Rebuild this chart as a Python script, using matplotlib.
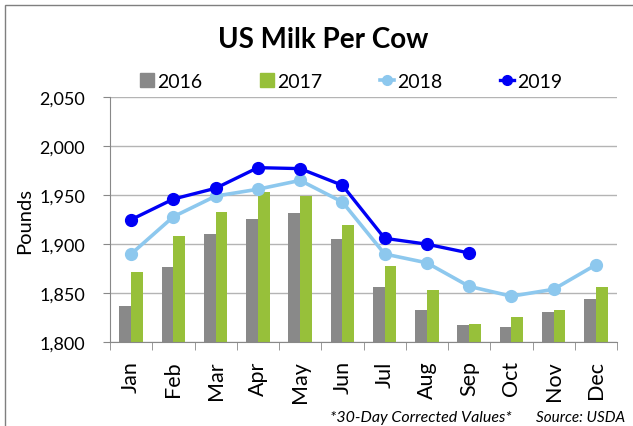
import matplotlib
matplotlib.use("Agg")
import matplotlib.pyplot as plt
import numpy as np
from matplotlib.patches import Rectangle
from matplotlib.lines import Line2D
from matplotlib.ticker import FuncFormatter, FixedLocator

plt.rcParams['font.family'] = ['Lato', 'DejaVu Sans']

months = ["Jan", "Feb", "Mar", "Apr", "May", "Jun", "Jul", "Aug", "Sep", "Oct", "Nov", "Dec"]
y2016 = [1837, 1877, 1910, 1926, 1932, 1905, 1856, 1833, 1818, 1816, 1831, 1844]
y2017 = [1872, 1908, 1933, 1953, 1949, 1920, 1878, 1853, 1819, 1826, 1833, 1856]
y2018 = [1890, 1928, 1949, 1956, 1965, 1943, 1890, 1881, 1857, 1847, 1854, 1879]
y2019 = [1925, 1946, 1957, 1978, 1977, 1960, 1906, 1900, 1891]
yticks = [1800, 1850, 1900, 1950, 2000, 2050]

c16 = "#898989"
c17 = "#97C03A"
c18 = "#8DC8EE"
c19 = "#0000F5"

fig = plt.figure(figsize=(6.33, 4.27), dpi=100)
ax = fig.add_axes([110/633, 1-343.3/427, 507/633, (343.3-98)/427])

x = np.arange(len(months))
w = 0.28
ax.bar(x - w/2, y2016, width=w, color=c16, zorder=2)
ax.bar(x + w/2, y2017, width=w, color=c17, zorder=2)
ax.plot(x, y2018, color=c18, lw=2.6, marker='o', ms=8.5, zorder=3)
ax.plot(np.arange(len(y2019)), y2019, color=c19, lw=2.4, marker='o', ms=8.5, zorder=4)

ax.set_xlim(-0.5, 11.5)
ax.set_ylim(1800, 2050)
ax.set_yticks(yticks)
ax.yaxis.set_major_formatter(FuncFormatter(lambda v, p: f"{int(v):,}"))
ax.grid(axis='y', color='#b4b4b4', lw=1.0, zorder=0)
ax.set_axisbelow(True)

ax.set_xticks(x)
ax.set_xticklabels(months, rotation=90, fontsize=15.5)
ax.tick_params(axis='x', which='major', length=0, pad=13)
ax.xaxis.set_minor_locator(FixedLocator(np.arange(-0.5, 12, 1)))
ax.tick_params(axis='x', which='minor', length=6, color='#888888')
ax.tick_params(axis='y', labelsize=13, length=5, color='#888888', pad=13)

for s in ['top', 'right']:
    ax.spines[s].set_visible(False)
ax.spines['left'].set_color('#888888')
ax.spines['bottom'].set_color('#888888')

ax.set_ylabel("Pounds", fontsize=14.5, labelpad=4)

fig.text(323/633, 1-48/427, "US Milk Per Cow", ha='center', va='baseline',
         fontsize=20, fontweight='bold')

handles = [
    Line2D([], [], ls='none', marker='s', ms=10, color=c16),
    Line2D([], [], ls='none', marker='s', ms=10, color=c17),
    Line2D([], [], color=c18, lw=2.6, marker='o', ms=7),
    Line2D([], [], color=c19, lw=2.4, marker='o', ms=7),
]
fig.legend(handles, ["2016", "2017", "2018", "2019"], ncol=4, loc='center',
           bbox_to_anchor=(351/633, 1-82.5/427), frameon=False, fontsize=14,
           handlelength=0.75, handletextpad=0.15, columnspacing=2.95)

fig.text(330/633, 1-422/427, "*30-Day Corrected Values*", ha='left', va='baseline',
         fontsize=11.5, style='italic')
fig.text(536/633, 1-422/427, "Source: USDA", ha='left', va='baseline',
         fontsize=11, style='italic')

fig.patches.append(Rectangle((5/633, -0.2), 2, 1.2 - 6/427, transform=fig.transFigure,
                             fill=False, edgecolor='#7f7f7f', lw=1.0))

fig.savefig("out.png", dpi=100)
